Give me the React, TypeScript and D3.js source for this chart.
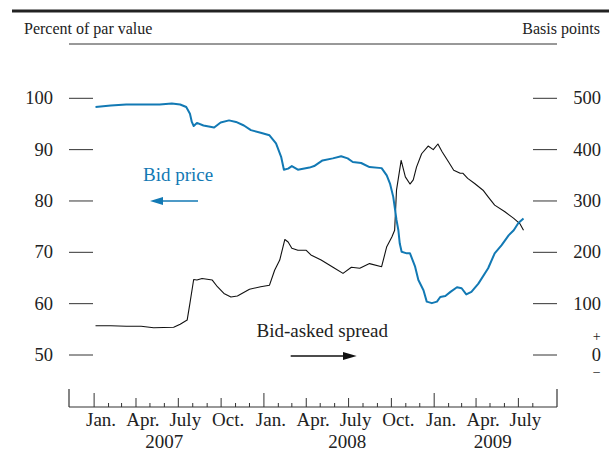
import React from "react";
import * as d3 from "d3";

const priceDates = ["2007-01-04","2007-02-06","2007-03-11","2007-04-16","2007-05-22","2007-06-17","2007-07-05","2007-07-18","2007-07-26","2007-07-30","2007-08-03","2007-08-10","2007-08-24","2007-09-16","2007-09-30","2007-10-18","2007-11-02","2007-11-19","2007-12-04","2007-12-25","2008-01-13","2008-01-27","2008-02-07","2008-02-13","2008-02-22","2008-03-01","2008-03-14","2008-04-08","2008-04-18","2008-05-06","2008-05-28","2008-06-15","2008-06-29","2008-07-10","2008-07-28","2008-08-15","2008-09-10","2008-09-21","2008-09-28","2008-10-05","2008-10-12","2008-10-16","2008-10-19","2008-10-23","2008-11-03","2008-11-10","2008-11-21","2008-11-28","2008-12-09","2008-12-16","2008-12-27","2009-01-07","2009-01-14","2009-01-25","2009-02-05","2009-02-19","2009-03-01","2009-03-11","2009-03-22","2009-04-06","2009-04-27","2009-05-11","2009-05-26","2009-06-10","2009-06-21","2009-07-01","2009-07-12"];
const priceValues = [98.3,98.6,98.8,98.8,98.8,99.0,98.8,98.3,97.0,95.4,94.6,95.2,94.7,94.3,95.3,95.7,95.4,94.7,93.8,93.3,92.8,91.2,88.6,86.1,86.3,86.8,86.1,86.5,86.8,87.9,88.3,88.7,88.3,87.6,87.4,86.6,86.4,85.0,83.4,80.8,76.3,74.3,71.7,70.1,69.8,69.8,67.2,64.6,62.6,60.4,60.1,60.4,61.3,61.5,62.3,63.2,63.0,61.8,62.3,63.9,66.9,69.8,71.4,73.3,74.3,75.7,76.6];

const spreadDates = ["2007-01-04","2007-02-06","2007-03-11","2007-04-12","2007-05-09","2007-06-21","2007-07-05","2007-07-20","2007-07-26","2007-08-03","2007-08-10","2007-08-21","2007-09-12","2007-09-23","2007-10-07","2007-10-22","2007-11-05","2007-12-01","2007-12-25","2008-01-13","2008-01-24","2008-02-04","2008-02-15","2008-02-22","2008-03-01","2008-03-14","2008-04-01","2008-04-11","2008-05-03","2008-06-01","2008-06-19","2008-07-07","2008-07-25","2008-08-15","2008-09-10","2008-09-21","2008-10-02","2008-10-08","2008-10-12","2008-10-22","2008-10-31","2008-11-10","2008-11-17","2008-11-24","2008-12-05","2008-12-19","2008-12-30","2009-01-09","2009-01-18","2009-02-01","2009-02-12","2009-02-26","2009-03-04","2009-03-14","2009-03-29","2009-04-16","2009-04-27","2009-05-11","2009-06-02","2009-06-21","2009-07-04","2009-07-12"];
const spreadValues = [57,57,56,56,53,54,60,68,101,147,146,149,146,133,120,113,115,128,133,136,165,185,225,220,208,204,204,195,185,169,159,171,169,178,172,211,230,243,321,379,347,333,341,366,392,407,400,411,396,376,360,354,354,344,334,321,308,292,279,266,256,243];

const leftTicks = [50, 60, 70, 80, 90, 100];
const rightTicks = [100, 200, 300, 400, 500];
const monthLabels = ["Jan.", "Apr.", "July", "Oct."];
const yearLabels = [
  { label: "2007", date: "2007-06-01" },
  { label: "2008", date: "2008-06-28" },
  { label: "2009", date: "2009-05-07" },
];
const axisStart = "2006-11-08";
const axisEnd = "2009-09-22";
const tickStart = "2007-01-01";
const tickEnd = "2009-08-15";
const lastLabel = "2009-07-01";

const parse = (s: string) => {
  const [y, m, d] = s.split("-").map(Number);
  return new Date(y, m - 1, d);
};

const BLUE = "#1279b4";
const INK = "#222";
const FONT = "'Liberation Serif', 'Times New Roman', serif";

export default function App() {
  const W = 609, H = 454;
  const x = d3.scaleTime().domain([parse(axisStart), parse(axisEnd)]).range([69, 557]);
  const yL = d3.scaleLinear().domain([50, 100]).range([355, 98.3]);
  const yR = d3.scaleLinear().domain([0, 500]).range([355, 98.3]);
  const baseY = 407;

  const price = priceDates.map((d, i) => ({ d: parse(d), v: priceValues[i] }));
  const spread = spreadDates.map((d, i) => ({ d: parse(d), v: spreadValues[i] }));

  const priceLine = d3.line<{ d: Date; v: number }>().x(p => x(p.d)).y(p => yL(p.v));
  const spreadLine = d3.line<{ d: Date; v: number }>().x(p => x(p.d)).y(p => yR(p.v));

  const months = d3.timeMonth.range(parse(tickStart), parse(tickEnd));
  const labelMonths = months.filter(m => m.getMonth() % 3 === 0 && m <= parse(lastLabel));

  return (
    <svg width={W} height={H} style={{ position: "absolute", left: 0, top: 0, background: "#fff" }} fontFamily={FONT}>
      <line x1={12} x2={609} y1={11} y2={11} stroke="#222" strokeWidth={3} />
      <text x={24} y={34} fontSize={16} fill={INK}>Percent of par value</text>
      <text x={600} y={34} fontSize={16} fill={INK} textAnchor="end">Basis points</text>
      <line x1={69} x2={557} y1={44} y2={44} stroke="#333" strokeWidth={1} />

      {leftTicks.map(v => (
        <g key={"l" + v}>
          <line x1={69} x2={93} y1={yL(v)} y2={yL(v)} stroke="#333" strokeWidth={1} />
          <text x={53} y={yL(v) + 6} fontSize={18.5} textAnchor="end" fill={INK}>{v}</text>
        </g>
      ))}
      <g>
        <line x1={533} x2={557} y1={yR(0)} y2={yR(0)} stroke="#333" strokeWidth={1} />
        <text x={601} y={yR(0) + 6} fontSize={18.5} textAnchor="end" fill={INK}>0</text>
        <text x={596.7} y={yR(0) - 14} fontSize={14} textAnchor="middle" fill={INK}>+</text>
        <text x={596.7} y={yR(0) + 22} fontSize={14} textAnchor="middle" fill={INK}>−</text>
      </g>
      {rightTicks.map(v => (
        <g key={"r" + v}>
          <line x1={533} x2={557} y1={yR(v)} y2={yR(v)} stroke="#333" strokeWidth={1} />
          <text x={601} y={yR(v) + 6} fontSize={18.5} textAnchor="end" fill={INK}>{v}</text>
        </g>
      ))}

      <line x1={69} x2={557} y1={baseY} y2={baseY} stroke="#333" strokeWidth={1.2} />
      <line x1={69} x2={69} y1={389} y2={baseY} stroke="#333" strokeWidth={1.2} />
      <line x1={557} x2={557} y1={389} y2={baseY} stroke="#333" strokeWidth={1.2} />
      {months.map(m => {
        const mo = m.getMonth();
        const len = mo === 0 ? 14 : mo % 3 === 0 ? 9 : 4;
        return <line key={+m} x1={x(m)} x2={x(m)} y1={baseY - len} y2={baseY} stroke="#333" strokeWidth={1} />;
      })}
      {labelMonths.map(m => (
        <text key={"m" + +m} x={x(d3.timeDay.offset(m, 15))} y={426} fontSize={19} textAnchor="middle" fill={INK}>
          {monthLabels[m.getMonth() / 3]}
        </text>
      ))}
      {yearLabels.map(yl => (
        <text key={yl.label} x={x(parse(yl.date))} y={448} fontSize={19} textAnchor="middle" fill={INK}>{yl.label}</text>
      ))}

      <path d={spreadLine(spread) || ""} fill="none" stroke="#111" strokeWidth={1.1} strokeLinejoin="round" />
      <path d={priceLine(price) || ""} fill="none" stroke={BLUE} strokeWidth={2} strokeLinejoin="round" />

      <text x={143} y={181} fontSize={19} fill={BLUE}>Bid price</text>
      <line x1={198} x2={158} y1={201} y2={201} stroke={BLUE} strokeWidth={1.3} />
      <polygon points="150,201 163,197 163,205" fill={BLUE} />

      <text x={256.5} y={336.5} fontSize={19} fill={INK}>Bid-asked spread</text>
      <line x1={290.7} x2={348} y1={356} y2={356} stroke="#111" strokeWidth={1.3} />
      <polygon points="356.7,356 343,352 343,360" fill="#111" />
    </svg>
  );
}
